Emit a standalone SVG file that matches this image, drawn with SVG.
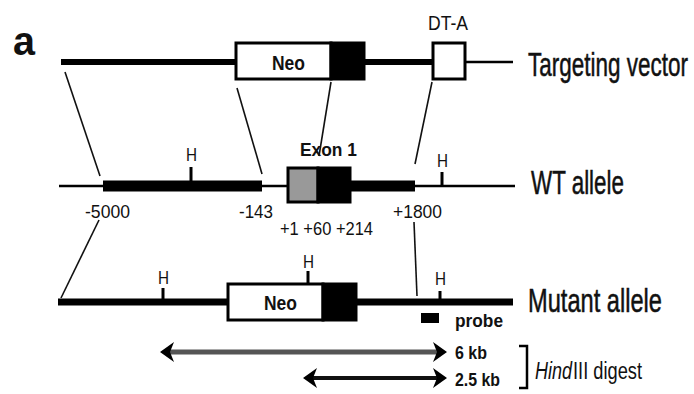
<svg xmlns="http://www.w3.org/2000/svg" width="694" height="394" viewBox="0 0 694 394">
<style>
.lbl{font-family:"Liberation Sans",Arial,sans-serif;fill:#111}
.big{font-size:22.5px;stroke:#111;stroke-width:0.35}
.pos{font-size:19px}
.h{font-size:18px}
.bold{font-weight:bold}
.box{fill:#fff;stroke:#000;stroke-width:3}
.blk{fill:#000;stroke:#000;stroke-width:3}
.thick{stroke:#000;stroke-linecap:butt}
.thin{stroke:#000;stroke-width:2.5}
.conn{stroke:#111;stroke-width:1.6;fill:none}
.tick{stroke:#000;stroke-width:3}
</style>
<defs>
<marker id="ah" viewBox="0 0 14 20" refX="4" refY="10" markerWidth="14" markerHeight="20" markerUnits="userSpaceOnUse" orient="auto-start-reverse">
<path d="M0,0 L14,10 L0,20 L4,10 Z" fill="#000"/>
</marker>
</defs>
<rect width="694" height="394" fill="#fff"/>
<text class="lbl bold" x="13" y="55" font-size="40" textLength="22" lengthAdjust="spacingAndGlyphs">a</text>

<g id="targeting-vector">
<line class="thick" x1="61" y1="62" x2="236" y2="62" stroke-width="6"/>
<line class="thick" x1="364" y1="62" x2="432" y2="62" stroke-width="6"/>
<line class="thin" x1="465" y1="62" x2="513" y2="62"/>
<rect class="box" x="236" y="43" width="95" height="36"/>
<rect class="blk" x="331" y="43" width="33" height="36"/>
<text class="lbl bold" x="272" y="70" font-size="20" textLength="33" lengthAdjust="spacingAndGlyphs">Neo</text>
<rect class="box" x="433" y="43" width="32" height="36"/>
<text class="lbl" x="428" y="30" font-size="20" textLength="40" lengthAdjust="spacingAndGlyphs">DT-A</text>
<text class="lbl big" transform="translate(528,76) scale(1,1.5)" x="0" y="0" textLength="160" lengthAdjust="spacingAndGlyphs">Targeting vector</text>
</g>

<g id="wt-allele">
<line class="thin" x1="59" y1="186" x2="515" y2="186"/>
<line class="thick" x1="103" y1="186" x2="262" y2="186" stroke-width="11"/>
<line class="thick" x1="350" y1="186" x2="415" y2="186" stroke-width="11"/>
<line class="tick" x1="191" y1="167" x2="191" y2="182"/>
<text class="lbl h" x="186" y="161" textLength="11" lengthAdjust="spacingAndGlyphs">H</text>
<line class="tick" x1="442" y1="172" x2="442" y2="186"/>
<text class="lbl h" x="437" y="167" textLength="11" lengthAdjust="spacingAndGlyphs">H</text>
<rect x="288" y="168" width="30" height="34" fill="#999" stroke="#000" stroke-width="3"/>
<rect class="blk" x="318" y="168" width="32" height="34"/>
<text class="lbl bold" x="300" y="156" font-size="19" textLength="57" lengthAdjust="spacingAndGlyphs">Exon 1</text>
<text class="lbl pos" x="85" y="218" textLength="45" lengthAdjust="spacingAndGlyphs">-5000</text>
<text class="lbl pos" x="239" y="218" textLength="34" lengthAdjust="spacingAndGlyphs">-143</text>
<text class="lbl pos" x="280" y="235" textLength="93" lengthAdjust="spacingAndGlyphs">+1 +60 +214</text>
<text class="lbl pos" x="393" y="218" textLength="49" lengthAdjust="spacingAndGlyphs">+1800</text>
<text class="lbl big" transform="translate(531,194) scale(1,1.5)" x="0" y="0" textLength="93" lengthAdjust="spacingAndGlyphs">WT allele</text>
</g>

<g id="mutant-allele">
<line class="thick" x1="58" y1="302" x2="513" y2="302" stroke-width="7"/>
<rect class="box" x="228" y="284" width="95" height="36"/>
<rect class="blk" x="323" y="284" width="33" height="36"/>
<text class="lbl bold" x="264" y="310" font-size="20" textLength="33" lengthAdjust="spacingAndGlyphs">Neo</text>
<line class="tick" x1="163" y1="288" x2="163" y2="302"/>
<text class="lbl h" x="158" y="284" textLength="11" lengthAdjust="spacingAndGlyphs">H</text>
<line class="tick" x1="308" y1="271" x2="308" y2="284"/>
<text class="lbl h" x="303" y="268" textLength="11" lengthAdjust="spacingAndGlyphs">H</text>
<line class="tick" x1="440" y1="291" x2="440" y2="302"/>
<text class="lbl h" x="435" y="285" textLength="11" lengthAdjust="spacingAndGlyphs">H</text>
<rect x="421" y="313" width="18" height="10" fill="#000"/>
<text class="lbl bold" x="455" y="327" font-size="18" textLength="48" lengthAdjust="spacingAndGlyphs">probe</text>
<text class="lbl big" transform="translate(528,312) scale(1,1.5)" x="0" y="0" textLength="134" lengthAdjust="spacingAndGlyphs">Mutant allele</text>
</g>

<g id="connectors">
<line class="conn" x1="65" y1="72" x2="100" y2="176"/>
<line class="conn" x1="237" y1="88" x2="262" y2="174"/>
<line class="conn" x1="331" y1="82" x2="319" y2="156"/>
<line class="conn" x1="432" y1="82" x2="415" y2="164"/>
<line class="conn" x1="99" y1="220" x2="61" y2="298"/>
<line class="conn" x1="414" y1="222" x2="417" y2="296"/>
</g>

<g id="hindiii-fragments">
<line x1="170" y1="352" x2="437" y2="352" stroke="#555" stroke-width="5" marker-start="url(#ah)" marker-end="url(#ah)"/>
<line x1="313" y1="378" x2="437" y2="378" stroke="#111" stroke-width="4" marker-start="url(#ah)" marker-end="url(#ah)"/>
<text class="lbl bold" x="455" y="359" font-size="18" textLength="32" lengthAdjust="spacingAndGlyphs">6 kb</text>
<text class="lbl bold" x="455" y="386" font-size="18" textLength="45" lengthAdjust="spacingAndGlyphs">2.5 kb</text>
<path d="M519,346 H527 V388 H519" fill="none" stroke="#000" stroke-width="2.5"/>
<text class="lbl" transform="translate(535,379) scale(1,1.35)" x="0" y="0" font-size="17.5" font-style="italic" textLength="37" lengthAdjust="spacingAndGlyphs">Hind</text>
<text class="lbl" transform="translate(573,379) scale(1,1.35)" x="0" y="0" font-size="17.5" textLength="69" lengthAdjust="spacingAndGlyphs">III digest</text>
</g>
</svg>
